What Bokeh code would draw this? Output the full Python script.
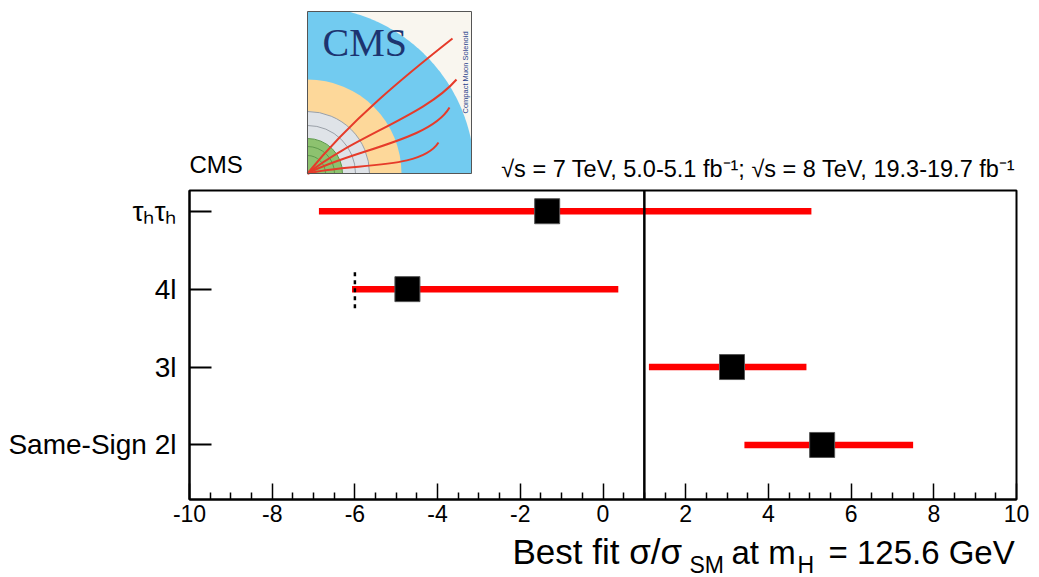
import numpy as np
from bokeh.plotting import figure
from bokeh.models import Range1d, FixedTicker, Span
from bokeh.layouts import column
from bokeh.embed import file_html
from bokeh.resources import INLINE
from bokeh.core.properties import value

# ---------------- data ----------------
channels = ["τₕτₕ", "4l", "3l", "Same-Sign 2l"]
best_fit = [-1.35, -4.73, 3.12, 5.30]
band_low = [-6.87, -6.07, 1.11, 3.42]
band_high = [5.04, 0.37, 4.92, 7.50]
lower_limit = [None, -6.0, None, None]
sm_value = 1.0
x_ticks = [-10, -8, -6, -4, -2, 0, 2, 4, 6, 8, 10]
x_tick_labels = ["-10", "-8", "-6", "-4", "-2", "0", "2", "4", "6", "8", "10"]
x_minor_ticks = [v / 2 for v in range(-20, 21) if v % 4 != 0]
header_text = "√s = 7 TeV, 5.0-5.1 fb⁻¹; √s = 8 TeV, 19.3-19.7 fb⁻¹"
experiment = "CMS"
title_parts = ["Best fit σ/σ", "SM", "at m", "H", "= 125.6 GeV"]

FONT = "Liberation Sans"
W = 1039
TOP_H = 188
MAIN_H = 344
BOT_H = 45
FL, FR = 189, 1016   # frame left/right in page pixels (frames are aligned in the column)
BASE_SHIFT = 0.4     # svg text baseline correction (fraction of font size)

ypos = [len(channels) - i for i in range(len(channels))]

# ---------------- top panel (logo + header) ----------------
t = figure(width=W, height=TOP_H, x_range=Range1d(FL, FR), y_range=Range1d(0, TOP_H),
           output_backend="svg", toolbar_location=None, min_border=0,
           x_axis_location=None, y_axis_location=None)
t.grid.visible = False
t.outline_line_color = None

def fy(ypix, fs=0):
    return TOP_H - ypix + BASE_SHIFT * fs

lx0, lx1, ly_top, ly_bot = 307, 471, 11, 173
cx, cy = lx0, fy(ly_bot)
t.quad(left=lx0, right=lx1, bottom=fy(ly_bot), top=fy(ly_top), fill_color="#f9f6ef", line_color=None)
th = np.linspace(0, np.pi / 2, 120)
bx = [cx] + list(np.minimum(cx + 167 * np.cos(th), lx1))
by = [cy] + list(np.minimum(cy + 167 * np.sin(th), fy(ly_top)))
t.patch(bx, by, fill_color="#72cbf0", line_color=None)
t.wedge(x=cx, y=cy, radius=94, start_angle=0, end_angle=np.pi / 2, fill_color="#fdd89a", line_color=None)
t.wedge(x=cx, y=cy, radius=62, start_angle=0, end_angle=np.pi / 2, fill_color="#dfe3e8", line_color=None)
t.wedge(x=cx, y=cy, radius=35, start_angle=0, end_angle=np.pi / 2, fill_color="#8dc26f", line_color=None)
t.arc(x=cx, y=cy, radius=[62, 48], start_angle=0, end_angle=np.pi / 2, line_color="#9aa0a8", line_width=1)
t.arc(x=cx, y=cy, radius=[18, 27, 35], start_angle=0, end_angle=np.pi / 2, line_color="#5e9a4c", line_width=1)
t.text(x=[322], y=[fy(58, 40)], text=["CMS"], text_font=value("Liberation Serif"), text_font_size="40px",
       text_color="#1d3470", text_baseline="alphabetic")
t.text(x=[465], y=[fy(113)], text=["Compact Muon Solenoid"], angle=np.pi / 2, text_font=value(FONT),
       text_font_size="7.5px", text_color="#27408b", text_baseline="middle", text_align="left")
ends = [(452, 38), (456, 79), (449, 107), (438, 142)]
c0s = [(350, 120), (355, 135), (350, 150), (350, 162)]
c1s = [(405, 75), (425, 115), (430, 140), (420, 170)]
t.bezier(x0=[cx] * 4, y0=[cy] * 4,
         x1=[e[0] for e in ends], y1=[fy(e[1]) for e in ends],
         cx0=[c[0] for c in c0s], cy0=[fy(c[1]) for c in c0s],
         cx1=[c[0] for c in c1s], cy1=[fy(c[1]) for c in c1s],
         line_color="#e63b2a", line_width=2)
t.quad(left=lx0, right=lx1, bottom=fy(ly_bot), top=fy(ly_top), fill_color=None, line_color="#555555", line_width=1)

t.text(x=[189], y=[fy(174, 24)], text=[experiment], text_font=value(FONT), text_font_size="24px",
       text_color="black", text_baseline="alphabetic", text_align="left")
t.text(x=[1015], y=[fy(178, 23.5)], text=[header_text], text_font=value(FONT), text_font_size="23.5px",
       text_color="black", text_baseline="alphabetic", text_align="right")

# ---------------- main panel ----------------
p = figure(width=W, height=MAIN_H, x_range=Range1d(-10, 10), y_range=Range1d(0.30, 4.266),
           output_backend="svg", toolbar_location=None,
           min_border_left=FL, min_border_right=W - FR, min_border_top=2, min_border_bottom=33)
p.grid.visible = False
p.outline_line_color = "black"
p.outline_line_width = 2

xa = p.xaxis[0]
xa.ticker = FixedTicker(ticks=x_ticks, minor_ticks=x_minor_ticks)
xa.major_label_overrides = {tk: lab for tk, lab in zip(x_ticks, x_tick_labels)}
xa.major_tick_in = 16
xa.major_tick_out = 0
xa.minor_tick_in = 7
xa.minor_tick_out = 0
xa.axis_line_width = 2
xa.major_tick_line_width = 1.5
xa.minor_tick_line_width = 1.5
xa.major_label_text_font = FONT
xa.major_label_text_font_size = "23px"
xa.major_label_text_color = "black"
xa.major_label_standoff = 5

ya = p.yaxis[0]
ya.ticker = FixedTicker(ticks=ypos)
ya.major_label_overrides = {y: c for y, c in zip(ypos, channels)}
ya.major_tick_in = 22
ya.major_tick_out = 0
ya.minor_tick_line_color = None
ya.axis_line_width = 2
ya.major_tick_line_width = 2
ya.major_label_text_font = FONT
ya.major_label_text_font_size = "28px"
ya.major_label_text_color = "black"
ya.major_label_standoff = 13

p.add_layout(Span(location=sm_value, dimension="height", line_color="black", line_width=2.5))

p.segment(x0=band_low, x1=band_high, y0=ypos, y1=ypos, line_color="#ff0000", line_width=6.5, line_cap="butt")
for xl, y in zip(lower_limit, ypos):
    if xl is not None:
        p.segment(x0=[xl], x1=[xl], y0=[y - 0.245], y1=[y + 0.245], line_color="black",
                  line_width=2.5, line_dash="4 4")
p.scatter(x=best_fit, y=ypos, marker="square", size=25, fill_color="black", line_color="#555555", line_width=1)

# ---------------- bottom panel (x axis title) ----------------
b = figure(width=W, height=BOT_H, x_range=Range1d(FL, FR), y_range=Range1d(0, BOT_H),
           output_backend="svg", toolbar_location=None, min_border=0,
           x_axis_location=None, y_axis_location=None)
b.grid.visible = False
b.outline_line_color = None
PAGE_TOP_B = TOP_H + MAIN_H
title_x = [512, 689, 731, 797, 828]
title_base = [565, 574, 565, 574, 565]
title_size = [35, 23, 33, 23, 33]
for txt, px, py, fs in zip(title_parts, title_x, title_base, title_size):
    b.text(x=[px], y=[BOT_H - (py - PAGE_TOP_B) + BASE_SHIFT * fs], text=[txt], text_font=value(FONT),
           text_font_size=f"{fs}px", text_color="black", text_baseline="alphabetic", text_align="left")

layout = column(t, p, b, spacing=0)
open("out.html", "w").write(file_html(layout, INLINE))
